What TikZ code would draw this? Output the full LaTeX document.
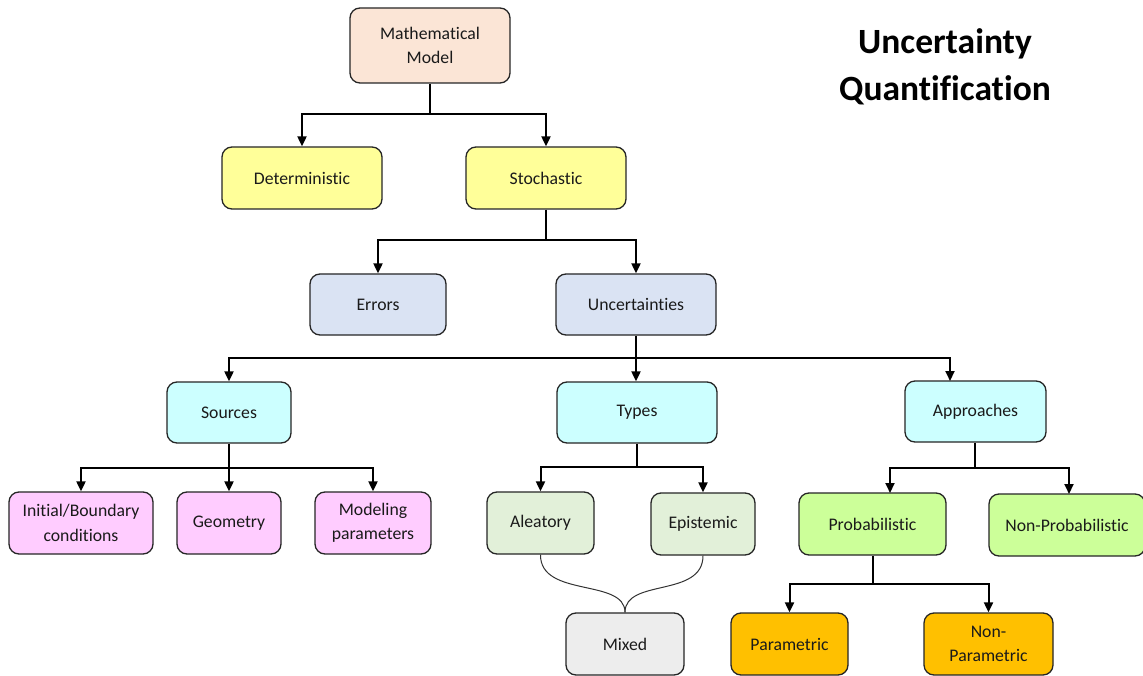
\documentclass[tikz,border=0pt]{standalone}
\usepackage{fontspec}
\setmainfont{Carlito}[Ligatures={NoCommon}]
\usetikzlibrary{arrows.meta}
\definecolor{cPeach}{HTML}{FBE5D6}
\definecolor{cYellow}{HTML}{FFFF99}
\definecolor{cBlue}{HTML}{DAE3F3}
\definecolor{cCyan}{HTML}{CCFFFF}
\definecolor{cPink}{HTML}{FFCCFF}
\definecolor{cSage}{HTML}{E2F0D9}
\definecolor{cGray}{HTML}{EDEDED}
\definecolor{cLime}{HTML}{CCFF99}
\definecolor{cOrange}{HTML}{FFC000}
\definecolor{cText}{HTML}{1A1A1A}
\begin{document}
\begin{tikzpicture}[x=1pt,y=-1pt,
  box/.style={draw=black!85, line width=1.3pt, rounded corners=10pt, align=center,
    inner sep=0pt, text=cText, font=\fontsize{17.7}{24.5}\selectfont},
  conn/.style={line width=2pt, -{Triangle[length=10pt,width=9pt]}},
  plain/.style={line width=2pt},
  curv/.style={line width=1pt, draw=black!80}]
\useasboundingbox (0,0) rectangle (1143,676);
\fill[white] (0,0) rectangle (1143,676);

\node[font=\bfseries\fontsize{35.5}{47}\selectfont, align=center] (title) at (945,67) {Uncertainty\\Quantification};

\node[box, fill=cPeach, minimum width=160pt, minimum height=75pt] (mm) at (430,45.5) {Mathematical\\Model};
\node[box, fill=cYellow, minimum width=160pt, minimum height=62pt] (det) at (302,178) {Deterministic};
\node[box, fill=cYellow, minimum width=160pt, minimum height=62pt] (sto) at (546,178) {Stochastic};
\node[box, fill=cBlue, minimum width=136pt, minimum height=61pt] (err) at (378,304.5) {Errors};
\node[box, fill=cBlue, minimum width=160pt, minimum height=61pt] (unc) at (636,304.5) {Uncertainties};
\node[box, fill=cCyan, minimum width=124pt, minimum height=61pt] (src) at (229,412.5) {Sources};
\node[box, fill=cCyan, minimum width=160pt, minimum height=61pt] (typ) at (637,412.5) {Types};
\node[box, fill=cCyan, minimum width=141pt, minimum height=61pt] (app) at (975.5,411.5) {Approaches};
\node[box, fill=cPink, minimum width=144pt, minimum height=62pt] (ibc) at (81,523) {Initial/Boundary\\conditions};
\node[box, fill=cPink, minimum width=104pt, minimum height=62pt] (geo) at (229,523) {Geometry};
\node[box, fill=cPink, minimum width=116pt, minimum height=62pt] (mod) at (373,523) {Modeling\\parameters};
\node[box, fill=cSage, minimum width=107pt, minimum height=62pt] (ale) at (540.5,523) {Aleatory};
\node[box, fill=cSage, minimum width=104pt, minimum height=62pt] (epi) at (703,524) {Epistemic};
\node[box, fill=cLime, minimum width=147pt, minimum height=62pt] (prob) at (872.5,524) {Probabilistic};
\node[box, fill=cLime, minimum width=156pt, minimum height=62pt] (nprob) at (1067,525) {Non-Probabilistic};
\node[box, fill=cGray, minimum width=118pt, minimum height=62pt] (mix) at (625,644) {Mixed};
\node[box, fill=cOrange, minimum width=117pt, minimum height=62pt] (par) at (789.5,644) {Parametric};
\node[box, fill=cOrange, minimum width=129pt, minimum height=62pt] (npar) at (988.5,644) {Non-\\Parametric};

% Mathematical Model
\coordinate (j1) at (430,114);
\draw[plain] (mm.south) -- (j1);
\draw[conn] (j1) -| (det.north);
\draw[conn] (j1) -| (sto.north);
% Stochastic
\coordinate (j2) at (546,240);
\draw[plain] (sto.south) -- (j2);
\draw[conn] (j2) -| (err.north);
\draw[conn] (j2) -| (unc.north);
% Uncertainties
\coordinate (j3) at (636,358);
\draw[plain] (unc.south) -- (j3);
\draw[conn] (j3) -| (src.north);
\draw[conn] (j3) -- (typ.north -| j3);
\coordinate (appin) at (950,381);
\draw[conn] (j3) -| (appin);
% Sources
\coordinate (j4) at (229,468);
\draw[plain] (src.south) -- (j4);
\draw[conn] (j4) -| (ibc.north);
\draw[conn] (j4) -- (geo.north);
\draw[conn] (j4) -| (mod.north);
% Types
\coordinate (j5) at (637,467);
\draw[plain] (typ.south) -- (j5);
\draw[conn] (j5) -| (ale.north);
\draw[conn] (j5) -| (epi.north);
% Approaches
\coordinate (j6) at (975,468);
\draw[plain] (app.south -| j6) -- (j6);
\coordinate (probin) at (890,493);
\coordinate (nprobin) at (1069,494);
\draw[conn] (j6) -| (probin);
\draw[conn] (j6) -| (nprobin);
% Probabilistic
\coordinate (j7) at (873,584);
\draw[plain] (prob.south -| j7) -- (j7);
\draw[conn] (j7) -| (par.north);
\draw[conn] (j7) -| (npar.north);
% Mixed curves
\draw[curv] (ale.south) .. controls (540,598) and (625,578) .. (mix.north);
\draw[curv] (epi.south) .. controls (703,598) and (625,578) .. (mix.north);
\end{tikzpicture}
\end{document}
